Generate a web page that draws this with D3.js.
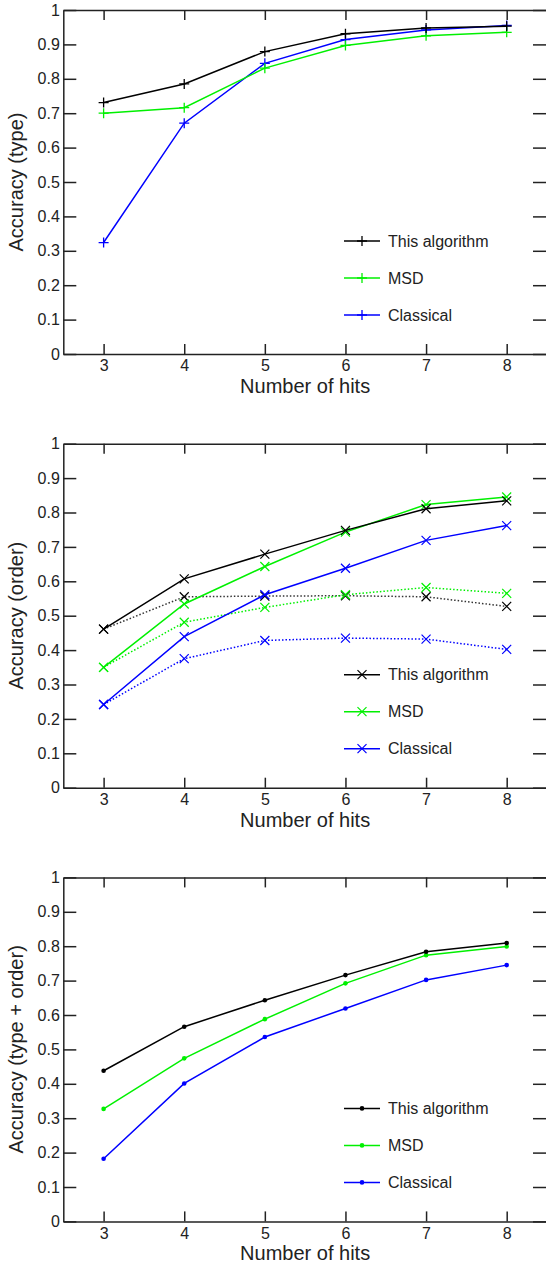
<!DOCTYPE html>
<html>
<head>
<meta charset="utf-8">
<script src="https://cdn.jsdelivr.net/npm/d3@7"></script>
<style>
  body { margin: 0; background: #fff; }
  svg { display: block; font-family: "Liberation Sans", Arial, sans-serif; }
  .axis text { font-size: 16px; fill: #222; }
  .axis path, .axis line { stroke: #222; stroke-width: 1.5; }
</style>
</head>
<body>
<div id="vis"></div>
<script>
const FRAME_WIDTH = 546;
const FRAME_HEIGHT = 1269;
const MARGINS = {left: 63.3, right: -1, top: 10, bottom: 0};
const PANEL_HEIGHT = 344;
const PANEL_STEP = 433.7;

// data
const HITS = [3, 4, 5, 6, 7, 8];
const Y_TICKS = [0, 0.1, 0.2, 0.3, 0.4, 0.5, 0.6, 0.7, 0.8, 0.9, 1];
const SERIES_NAMES = ["This algorithm", "MSD", "Classical"];
const Y_TITLES = ["Accuracy (type)", "Accuracy (order)", "Accuracy (type + order)"];

const TYPE_THIS = [0.731, 0.785, 0.879, 0.931, 0.948, 0.953];
const TYPE_MSD = [0.700, 0.716, 0.831, 0.897, 0.925, 0.935];
const TYPE_CLASSICAL = [0.324, 0.671, 0.845, 0.914, 0.942, 0.955];

const ORDER_THIS = [0.461, 0.607, 0.679, 0.748, 0.811, 0.834];
const ORDER_MSD = [0.350, 0.534, 0.643, 0.743, 0.823, 0.845];
const ORDER_CLASSICAL = [0.242, 0.439, 0.561, 0.638, 0.719, 0.762];
const ORDER_THIS_DOT = [0.461, 0.555, 0.557, 0.558, 0.555, 0.527];
const ORDER_MSD_DOT = [0.350, 0.481, 0.524, 0.561, 0.582, 0.565];
const ORDER_CLASSICAL_DOT = [0.242, 0.375, 0.428, 0.435, 0.432, 0.402];

const BOTH_THIS = [0.438, 0.566, 0.643, 0.716, 0.784, 0.809];
const BOTH_MSD = [0.327, 0.474, 0.588, 0.692, 0.774, 0.799];
const BOTH_CLASSICAL = [0.182, 0.401, 0.536, 0.619, 0.702, 0.745];

const COLORS = ["#000000", "#00f000", "#0000ff"];

const PANELS = [
  {marker: "plus", solid: [TYPE_THIS, TYPE_MSD, TYPE_CLASSICAL], dotted: []},
  {marker: "cross", solid: [ORDER_THIS, ORDER_MSD, ORDER_CLASSICAL],
   dotted: [ORDER_THIS_DOT, ORDER_MSD_DOT, ORDER_CLASSICAL_DOT]},
  {marker: "dot", solid: [BOTH_THIS, BOTH_MSD, BOTH_CLASSICAL], dotted: []}
];

const FRAME = d3.select("#vis")
  .append("svg")
    .attr("width", FRAME_WIDTH)
    .attr("height", FRAME_HEIGHT);

const X_SCALE = d3.scaleLinear()
  .domain([2.5, 8.5])
  .range([MARGINS.left, FRAME_WIDTH - MARGINS.right]);

function drawMarker(g, type, color) {
  if (type === "dot") {
    g.append("circle").attr("r", 2.3).attr("fill", color);
  } else if (type === "plus") {
    g.append("path").attr("d", "M-5,0H5M0,-5V5")
      .attr("stroke", color).attr("stroke-width", 1.3).attr("fill", "none");
  } else {
    g.append("path").attr("d", "M-4.5,-4.5L4.5,4.5M-4.5,4.5L4.5,-4.5")
      .attr("stroke", color).attr("stroke-width", 1.2).attr("fill", "none");
  }
}

PANELS.forEach((panel, i) => {
  const top = MARGINS.top + i * PANEL_STEP;
  const bottom = top + PANEL_HEIGHT;

  const Y_SCALE = d3.scaleLinear()
    .domain([0, 1])
    .range([bottom, top]);

  const G = FRAME.append("g");

  // axes (ticks point inward)
  G.append("g").attr("class", "axis")
    .attr("transform", "translate(0," + bottom + ")")
    .call(d3.axisBottom(X_SCALE).tickValues(HITS).tickSizeInner(-10).tickSizeOuter(0)
      .tickPadding(6).tickFormat((d) => String(d)));

  G.append("g").attr("class", "axis")
    .attr("transform", "translate(0," + top + ")")
    .call(d3.axisTop(X_SCALE).tickValues(HITS).tickSizeInner(-10).tickSizeOuter(0).tickFormat(""));

  G.append("g").attr("class", "axis")
    .attr("transform", "translate(" + MARGINS.left + ",0)")
    .call(d3.axisLeft(Y_SCALE).tickValues(Y_TICKS).tickSizeInner(-13).tickSizeOuter(0)
      .tickPadding(3.5).tickFormat((d) => String(d)));

  G.append("g").attr("class", "axis")
    .attr("transform", "translate(" + X_SCALE.range()[1] + ",0)")
    .call(d3.axisRight(Y_SCALE).tickValues(Y_TICKS).tickSizeInner(-14).tickSizeOuter(0).tickFormat(""));

  // titles
  G.append("text")
    .attr("x", (X_SCALE.range()[0] + X_SCALE.range()[1]) / 2)
    .attr("y", bottom + 39)
    .attr("text-anchor", "middle")
    .attr("font-size", "20px")
    .attr("fill", "#222")
    .text("Number of hits");

  G.append("text")
    .attr("transform", "translate(23," + (top + bottom) / 2 + ") rotate(-90)")
    .attr("text-anchor", "middle")
    .attr("font-size", "20px")
    .attr("fill", "#222")
    .text(Y_TITLES[i]);

  const line = d3.line()
    .x((d, j) => X_SCALE(HITS[j]))
    .y((d) => Y_SCALE(d));

  // dotted series first, solid on top
  panel.dotted.forEach((vals, k) => {
    G.append("path")
      .attr("d", line(vals))
      .attr("fill", "none")
      .attr("stroke", COLORS[k])
      .attr("stroke-width", 1.5)
      .attr("stroke-dasharray", "1.5,2")
      .attr("opacity", k === 0 ? 0.8 : 1);
    vals.forEach((v, j) => {
      drawMarker(G.append("g").attr("transform", "translate(" + X_SCALE(HITS[j]) + "," + Y_SCALE(v) + ")"),
        panel.marker, COLORS[k]);
    });
  });

  panel.solid.slice().reverse().forEach((vals, r) => {
    const k = panel.solid.length - 1 - r;
    G.append("path")
      .attr("d", line(vals))
      .attr("fill", "none")
      .attr("stroke", COLORS[k])
      .attr("stroke-width", 1.5);
    vals.forEach((v, j) => {
      drawMarker(G.append("g").attr("transform", "translate(" + X_SCALE(HITS[j]) + "," + Y_SCALE(v) + ")"),
        panel.marker, COLORS[k]);
    });
  });

  // legend
  SERIES_NAMES.forEach((name, k) => {
    const ly = bottom - 113 + k * 37;
    const LG = G.append("g").attr("transform", "translate(344," + ly + ")");
    LG.append("line")
      .attr("x1", 0).attr("x2", 36)
      .attr("stroke", COLORS[k]).attr("stroke-width", 1.5);
    drawMarker(LG.append("g").attr("transform", "translate(18,0)"), panel.marker, COLORS[k]);
    LG.append("text")
      .attr("x", 44)
      .attr("dy", "0.35em")
      .attr("font-size", "16px")
      .attr("fill", "#222")
      .text(name);
  });
});
</script>
</body>
</html>
